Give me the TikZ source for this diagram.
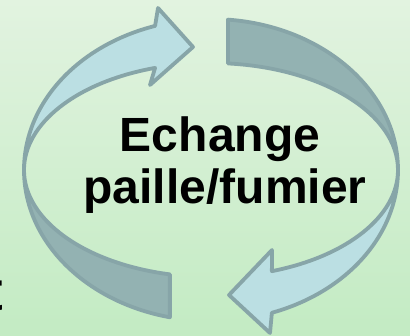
\documentclass[tikz,border=0pt]{standalone}
\usepackage{fontspec}
\setmainfont{Liberation Sans}
\definecolor{bgtop}{RGB}{226,243,224}
\definecolor{bgbot}{RGB}{195,235,195}
\definecolor{lightc}{RGB}{187,223,227}
\definecolor{darkc}{RGB}{147,178,178}
\definecolor{strokec}{RGB}{135,165,168}
\begin{document}
\begin{tikzpicture}[x=1pt,y=1pt,
  band/.style={draw=strokec, line width=3.8pt, line join=round},
  lightband/.style={band, fill=lightc},
  darkband/.style={band, fill=darkc},
  lbl/.style={font=\bfseries\fontsize{48}{54}\selectfont, inner sep=0pt, anchor=base}]
\useasboundingbox (0,0) rectangle (410,335);
\clip (0,0) rectangle (410,335);
\shade[top color=bgtop, bottom color=bgbot] (0,0) rectangle (410,335);
\node[lbl, font=\bfseries\fontsize{56}{60}\selectfont, anchor=base west] (frag) at (-15.5,24) {t};
% dark top-right (tail of arrow 1)
\draw[darkband] ({211+187*cos(84.8)},{165+151*sin(84.8)})
  arc[start angle=84.8, end angle=0, x radius=187, y radius=151]
  arc[start angle=0, end angle=84.8, x radius=187, y radius=107] -- cycle;
% dark bottom-left (tail of arrow 2)
\draw[darkband] ({211+187*cos(257.3)},{165+151*sin(257.3)})
  arc[start angle=257.3, end angle=180, x radius=187, y radius=151]
  arc[start angle=180, end angle=257.3, x radius=187, y radius=107] -- cycle;
% light bottom-right (head of arrow 1)
\draw[lightband] (398,165)
  arc[start angle=0, end angle=-71, x radius=187, y radius=151]
  -- (270,2) -- (229,40) -- (272,85)
  -- ({211+187*cos(-71)},{165+107*sin(-71)})
  arc[start angle=-71, end angle=0, x radius=187, y radius=107] -- cycle;
% light top-left (head of arrow 2)
\draw[lightband] (24,165)
  arc[start angle=180, end angle=107.4, x radius=187, y radius=151]
  -- (158,327) -- (193,288) -- (150,250)
  -- ({211+187*cos(107.4)},{165+107*sin(107.4)})
  arc[start angle=107.4, end angle=180, x radius=187, y radius=107] -- cycle;
\node[lbl] (l1) at (220,183) {Echange};
\node[lbl] (l2) at (225,131) {paille/fumier};
\end{tikzpicture}
\end{document}
